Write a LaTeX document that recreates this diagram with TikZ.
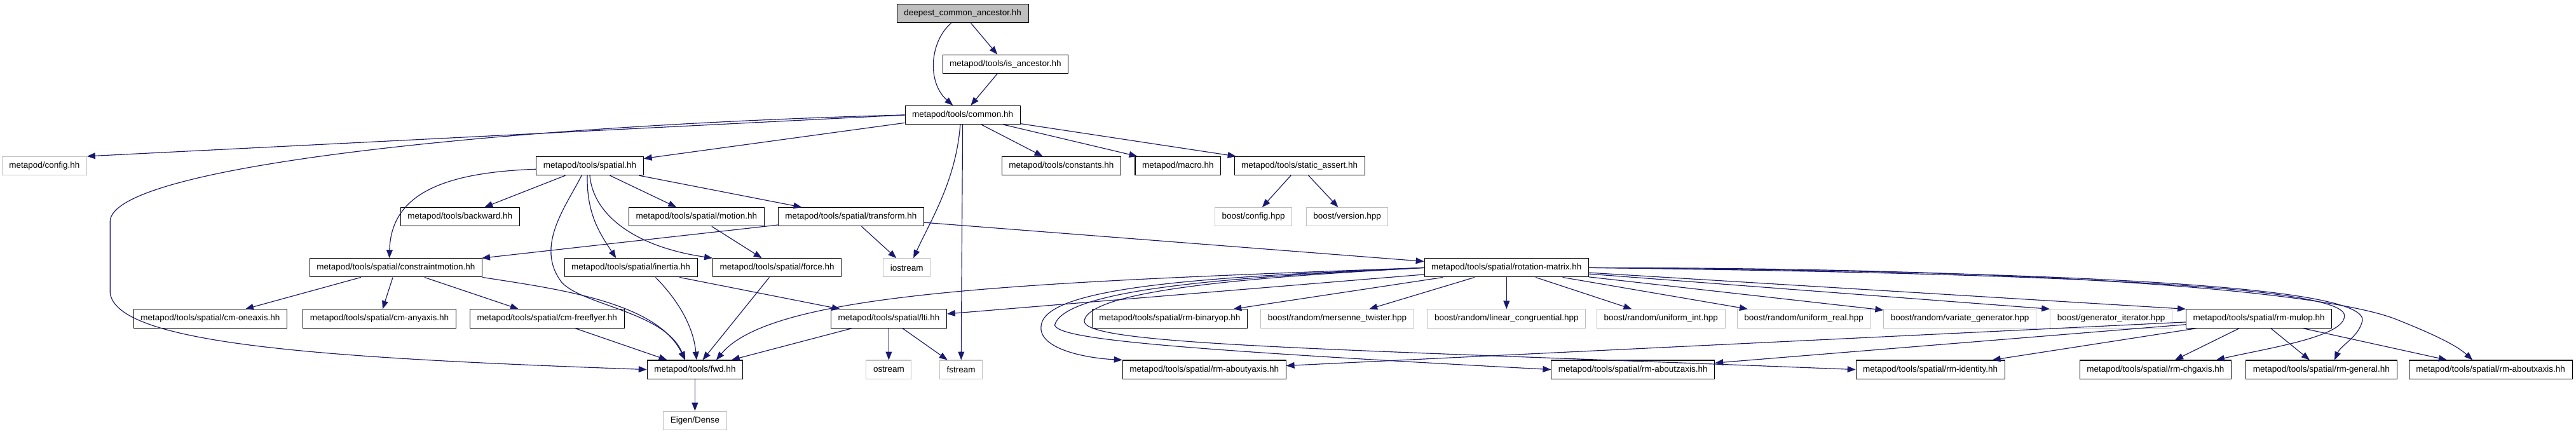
\documentclass[tikz,border=0pt]{standalone}
\usepackage{fontspec}
\setmainfont{Liberation Sans}
\usepackage{xcolor}
\usepackage{tikz}
\usetikzlibrary{arrows.meta}
\definecolor{edgeblue}{HTML}{191970}
\definecolor{rootfill}{HTML}{BFBFBF}
\definecolor{sysborder}{HTML}{BFBFBF}

\begin{document}
\begin{tikzpicture}[
    x=1mm, y=-1mm,
    header/.style={
        rectangle, draw=black, fill=white, line width=0.4mm,
        font=\fontsize{14.85}{16}\selectfont,
        minimum height=11.3mm, inner xsep=4.3mm, inner ysep=0pt,
    },
    rootheader/.style={header, fill=rootfill},
    sysheader/.style={header, draw=sysborder},
    incl/.style={
        draw=edgeblue, line width=0.45mm,
        -{Triangle[length=5mm, width=3.8mm]},
    },
]
\useasboundingbox (0,0) rectangle (1568,264);

% ── Top: file and its direct includes ─────────────────────────────────────
\node[rootheader] (root)   at (586, 8.2) {deepest\_common\_ancestor.hh};
\node[header]     (isanc)  at (612, 39)  {metapod/tools/is\_ancestor.hh};
\node[header]     (common) at (586, 70)  {metapod/tools/common.hh};

% ── Rank 3 ─────────────────────────────────────────────────────────────────
\node[sysheader] (config)  at (27, 101)  {metapod/config.hh};
\node[header]    (spatial) at (359, 101) {metapod/tools/spatial.hh};
\node[header]    (consts)  at (646, 101) {metapod/tools/constants.hh};
\node[header]    (macro)   at (717, 101) {metapod/macro.hh};
\node[header]    (sassert) at (791, 101) {metapod/tools/static\_assert.hh};

% ── Rank 4 ─────────────────────────────────────────────────────────────────
\node[header]    (backward) at (280, 132) {metapod/tools/backward.hh};
\node[header]    (motion)   at (424, 132) {metapod/tools/spatial/motion.hh};
\node[header]    (transf)   at (518, 132) {metapod/tools/spatial/transform.hh};
\node[sysheader] (bconfig)  at (763, 132) {boost/config.hpp};
\node[sysheader] (bversion) at (820, 132) {boost/version.hpp};

% ── Rank 5 ─────────────────────────────────────────────────────────────────
\node[header]    (cmotion)  at (241, 163) {metapod/tools/spatial/constraintmotion.hh};
\node[header]    (inertia)  at (384, 163) {metapod/tools/spatial/inertia.hh};
\node[header]    (force)    at (473, 163) {metapod/tools/spatial/force.hh};
\node[sysheader] (iostream) at (552, 163) {iostream};
\node[header]    (rotmat)   at (917, 163) {metapod/tools/spatial/rotation-matrix.hh};

% ── Rank 6 ─────────────────────────────────────────────────────────────────
\node[header]    (cmone)    at (128, 194)  {metapod/tools/spatial/cm-oneaxis.hh};
\node[header]    (cmany)    at (231, 194)  {metapod/tools/spatial/cm-anyaxis.hh};
\node[header]    (cmfree)   at (333, 194)  {metapod/tools/spatial/cm-freeflyer.hh};
\node[header]    (lti)      at (541, 194)  {metapod/tools/spatial/lti.hh};
\node[header]    (binop)    at (712, 194)  {metapod/tools/spatial/rm-binaryop.hh};
\node[sysheader] (mersenne) at (814, 194)  {boost/random/mersenne\_twister.hpp};
\node[sysheader] (lincong)  at (917, 194)  {boost/random/linear\_congruential.hpp};
\node[sysheader] (unint)    at (1011, 194) {boost/random/uniform\_int.hpp};
\node[sysheader] (unreal)   at (1098, 194) {boost/random/uniform\_real.hpp};
\node[sysheader] (variate)  at (1193, 194) {boost/random/variate\_generator.hpp};
\node[sysheader] (geniter)  at (1285, 194) {boost/generator\_iterator.hpp};
\node[header]    (mulop)    at (1375, 194) {metapod/tools/spatial/rm-mulop.hh};

% ── Rank 7 ─────────────────────────────────────────────────────────────────
\node[header]    (fwd)     at (423, 225)  {metapod/tools/fwd.hh};
\node[sysheader] (ostream) at (541, 225)  {ostream};
\node[sysheader] (fstream) at (585, 225)  {fstream};
\node[header]    (abouty)  at (733, 225)  {metapod/tools/spatial/rm-aboutyaxis.hh};
\node[header]    (aboutz)  at (994, 225)  {metapod/tools/spatial/rm-aboutzaxis.hh};
\node[header]    (ident)   at (1175, 225) {metapod/tools/spatial/rm-identity.hh};
\node[header]    (chgaxis) at (1312, 225) {metapod/tools/spatial/rm-chgaxis.hh};
\node[header]    (general) at (1413, 225) {metapod/tools/spatial/rm-general.hh};
\node[header]    (aboutx)  at (1516, 225) {metapod/tools/spatial/rm-aboutxaxis.hh};

% ── Rank 8 ─────────────────────────────────────────────────────────────────
\node[sysheader] (eigen) at (423, 256) {Eigen/Dense};

% ── Includes of the top files ──────────────────────────────────────────────
\draw[incl] (root) -- (isanc);
\draw[incl] (root) .. controls (566,25) and (564,50) .. ([xshift=-6mm]common.north);
\draw[incl] (isanc) -- (common);
\draw[incl] (common.west) -- (config.north east);
\draw[incl] (common.west) .. controls (320,76) and (67,100) .. (67,135)
            -- (67,178) .. controls (70,210) and (200,218) .. (fwd.west);
\draw[incl] (common) -- (spatial);
\draw[incl] (common) -- (consts);
\draw[incl] (common) -- (macro);
\draw[incl] (common) -- (sassert);
\draw[incl] ([xshift=-1.5mm]common.south) .. controls (582,110) and (566,135) .. ([xshift=4mm]iostream.north);
\draw[incl] (common) -- (fstream);
\draw[incl] (sassert) -- (bconfig);
\draw[incl] (sassert) -- (bversion);

% ── spatial.hh and friends ─────────────────────────────────────────────────
\draw[incl] (spatial) -- (backward);
\draw[incl] (spatial) -- (motion);
\draw[incl] (spatial) -- (transf);
\draw[incl] ([yshift=-2mm]spatial.west) .. controls (270,105) and (238,118) .. ([xshift=-4mm]cmotion.north);
\draw[incl] ([xshift=-1.5mm]spatial.south) .. controls (357,130) and (365,142) .. ([xshift=-9mm]inertia.north);
\draw[incl] (spatial.south) .. controls (361,130) and (385,150) .. (force.north west);
\draw[incl] ([xshift=-5mm]spatial.south) .. controls (345,125) and (325,150) .. (342,172)
            .. controls (355,186) and (405,190) .. ([xshift=-6mm]fwd.north);
\draw[incl] (transf) -- (cmotion);
\draw[incl] (transf) -- (iostream);
\draw[incl] (transf) -- (rotmat);
\draw[incl] (motion) -- (force);
\draw[incl] (cmotion) -- (cmone);
\draw[incl] (cmotion) -- (cmany);
\draw[incl] (cmotion) -- (cmfree);
\draw[incl] (cmotion.south east) .. controls (340,176) and (400,184) .. ([xshift=-6mm]fwd.north);
\draw[incl] ([xshift=15mm]inertia.south) .. controls (412,182) and (422,198) .. ([xshift=1mm]fwd.north);
\draw[incl] (inertia) -- (lti);
\draw[incl] (force) -- (fwd);
\draw[incl] (cmfree) -- (fwd);
\draw[incl] (lti) -- (fwd);
\draw[incl] (lti) -- (ostream);
\draw[incl] (lti) -- (fstream);
\draw[incl] (fwd) -- (eigen);

% ── rotation-matrix.hh ─────────────────────────────────────────────────────
\draw[incl] (rotmat.west) .. controls (620,172) and (470,178) .. ([xshift=13mm]fwd.north);
\draw[incl] (rotmat) -- (lti);
\draw[incl] (rotmat) -- (binop);
\draw[incl] (rotmat) -- (mersenne);
\draw[incl] (rotmat) -- (lincong);
\draw[incl] (rotmat) -- (unint);
\draw[incl] (rotmat) -- (unreal);
\draw[incl] (rotmat) -- (variate);
\draw[incl] (rotmat) -- (geniter.north west);
\draw[incl] (rotmat) -- (mulop.north west);
\draw[incl] (rotmat.west) .. controls (760,168) and (640,172) .. (634,197)
            .. controls (630,212) and (660,218) .. (abouty.north west);
\draw[incl] (rotmat.west) .. controls (770,168) and (648,174) .. (642,198)
            .. controls (645,206) and (700,212) .. (aboutz.west);
\draw[incl] (rotmat.west) .. controls (780,168) and (665,175) .. (660,195)
            .. controls (657,210) and (800,212) .. (ident.west);
\draw[incl] (rotmat.east) .. controls (1200,166) and (1426,172) .. (1427,192)
            .. controls (1428,205) and (1380,212) .. ([xshift=37mm]chgaxis.north);
\draw[incl] (rotmat.east) .. controls (1220,165) and (1440,172) .. (1438,195)
            .. controls (1436,205) and (1425,210) .. ([xshift=8mm]general.north);
\draw[incl] (rotmat.east) .. controls (1250,163) and (1420,178) .. (1460,195)
            .. controls (1480,203) and (1495,210) .. ([xshift=-11mm]aboutx.north);

% ── rm-mulop.hh ────────────────────────────────────────────────────────────
\draw[incl] (mulop) -- (abouty);
\draw[incl] (mulop) -- (aboutz);
\draw[incl] (mulop) -- (ident);
\draw[incl] (mulop) -- (chgaxis);
\draw[incl] (mulop) -- (general);
\draw[incl] (mulop) -- (aboutx);

\end{tikzpicture}
\end{document}
